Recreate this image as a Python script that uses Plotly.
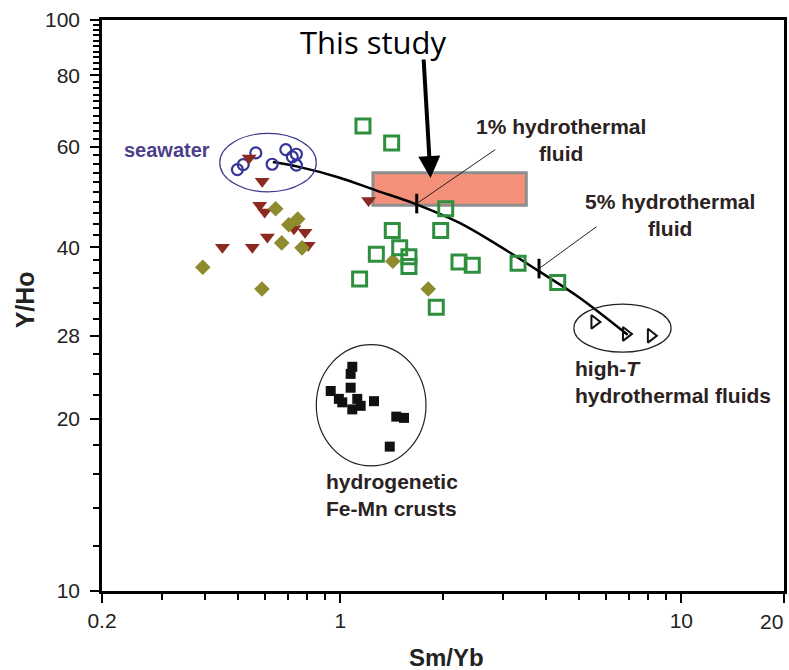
import math
import plotly.graph_objects as go

# ---------------- data ----------------
seawater_x = [0.499, 0.519, 0.565, 0.631, 0.692, 0.723, 0.743, 0.743]
seawater_y = [54.7, 55.8, 58.5, 55.9, 59.3, 57.6, 58.2, 55.7]

tri_x = [0.54, 0.59, 0.58, 0.60, 0.451, 0.552, 0.611, 0.731, 0.788, 0.805, 1.21]
tri_y = [57.3, 52.2, 47.4, 46.1, 40.0, 40.0, 41.7, 43.1, 42.5, 40.3, 48.3]

dia_x = [0.646, 0.706, 0.75, 0.673, 0.772, 0.395, 0.589, 1.425, 1.81]
dia_y = [46.7, 43.8, 44.8, 40.7, 39.9, 36.9, 33.8, 37.8, 33.8]

green_x = [1.165, 1.414, 1.42, 1.275, 1.139, 1.493, 1.589, 1.589, 1.969, 2.037, 2.228, 2.437, 3.32, 4.34, 1.911]
green_y = [65.2, 60.9, 42.8, 38.9, 35.2, 39.9, 38.5, 37.0, 42.8, 46.7, 37.7, 37.2, 37.5, 34.7, 31.4]

crust_x = [1.084, 1.072, 0.937, 1.072, 0.99, 1.013, 1.121, 1.084, 1.147, 1.255, 1.459, 1.537, 1.396]
crust_y = [24.7, 24.0, 22.4, 22.7, 21.7, 21.4, 21.7, 20.8, 21.1, 21.5, 20.2, 20.1, 17.9]

hiT_x = [5.56, 6.88, 8.14]
hiT_y = [29.6, 28.2, 28.0]

mix_x = [0.634, 0.756, 0.99, 1.272, 1.664, 2.222, 2.905, 3.80, 4.97, 6.96]
mix_y = [56.4, 55.3, 53.0, 50.3, 47.6, 44.2, 40.3, 36.4, 32.8, 28.1]

mark_labels = ["1% hydrothermal<br>fluid", "5% hydrothermal<br>fluid"]
mark_x = [1.675, 3.825]
mark_y = [47.7, 36.7]

study_box_x = [1.246, 3.51]
study_box_y = [47.4, 54.0]

seawater_ell_x = [0.443, 0.85]
seawater_ell_y = [50.0, 63.3]
crust_ell_x = [0.85, 1.783]
crust_ell_y = [16.56, 27.0]
hiT_ell_x = [4.84, 9.33]
hiT_ell_y = [26.2, 31.8]

x_ticks = [0.2, 1, 10, 20]
x_ticktext = ["0.2", "1", "10", "20"]
x_minor = [0.3, 0.4, 0.5, 0.6, 0.7, 0.8, 0.9, 2, 3, 4, 5, 6, 7, 8, 9]
y_ticks = [10, 20, 28, 40, 60, 80, 100]
y_minor = [v for v in range(12, 100, 2) if v not in y_ticks]

# ---------------- layout geometry (page pixels; body margin removed below) ----------------
W, H = 789, 670
PL, PT, PW, PH = 102, 20, 685, 571          # plot area on the page
ml, mt = PL, PT
mr, mb = W - ml - PW, H - mt - PH

L = math.log10
fig = go.Figure()

fig.add_trace(go.Scatter(x=mix_x, y=mix_y, mode="lines", line=dict(color="black", width=2.5, shape="spline"),
                         hoverinfo="skip"))
fig.add_trace(go.Scatter(x=seawater_x, y=seawater_y, mode="markers",
                         marker=dict(symbol="circle-open", size=11, color="#35359a", line=dict(width=2.2))))
fig.add_trace(go.Scatter(x=tri_x, y=tri_y, mode="markers",
                         marker=dict(symbol="triangle-down", size=13, color="#8b2a20")))
fig.add_trace(go.Scatter(x=dia_x, y=dia_y, mode="markers",
                         marker=dict(symbol="diamond", size=12, color="#8e8a2e")))
fig.add_trace(go.Scatter(x=green_x, y=green_y, mode="markers",
                         marker=dict(symbol="square-open", size=14, color="#2e8f3e", line=dict(width=3))))
fig.add_trace(go.Scatter(x=crust_x, y=crust_y, mode="markers",
                         marker=dict(symbol="square", size=10, color="#111111")))
fig.add_trace(go.Scatter(x=hiT_x, y=hiT_y, mode="markers",
                         marker=dict(symbol="triangle-right-open", size=12, color="#111111", line=dict(width=2))))
fig.add_trace(go.Scatter(x=mark_x, y=mark_y, mode="markers",
                         marker=dict(symbol="line-ns", size=14, color="black", line=dict(width=3, color="black"))))

# shapes
fig.add_shape(type="rect", xref="x", yref="y", x0=study_box_x[0], x1=study_box_x[1],
              y0=study_box_y[0], y1=study_box_y[1], fillcolor="#f4907a",
              line=dict(color="#8e8e8e", width=3), layer="below")
fig.add_shape(type="circle", xref="x", yref="y", x0=seawater_ell_x[0], x1=seawater_ell_x[1],
              y0=seawater_ell_y[0], y1=seawater_ell_y[1], line=dict(color="#3a3a8a", width=1.2))
fig.add_shape(type="circle", xref="x", yref="y", x0=crust_ell_x[0], x1=crust_ell_x[1],
              y0=crust_ell_y[0], y1=crust_ell_y[1], line=dict(color="#222222", width=1.2))
fig.add_shape(type="circle", xref="x", yref="y", x0=hiT_ell_x[0], x1=hiT_ell_x[1],
              y0=hiT_ell_y[0], y1=hiT_ell_y[1], line=dict(color="#222222", width=1.2))


def pp(xp, yp):
    return (xp - PL) / PW, (PT + PH - yp) / PH


def txt(xp, yp, text, font, xanchor="center", align="center", yanchor="middle", angle=0):
    x, y = pp(xp, yp)
    fig.add_annotation(x=x, y=y, xref="paper", yref="paper", text=text, showarrow=False, font=font,
                       xanchor=xanchor, yanchor=yanchor, align=align, textangle=angle)


# "This study" arrow
hx, hy = pp(432, 178)
fig.add_annotation(x=hx, y=hy, xref="paper", yref="paper", ax=-7, ay=-120, showarrow=True,
                   arrowhead=2, arrowsize=1.1, arrowwidth=4, arrowcolor="black", text="")

# label leader lines
fig.add_annotation(x=L(mark_x[0]), y=L(mark_y[0]), ax=80, ay=-55, showarrow=True, arrowhead=0,
                   arrowwidth=1, arrowcolor="#222", text="")
fig.add_annotation(x=L(mark_x[1]), y=L(mark_y[1]), ax=59, ay=-43, showarrow=True, arrowhead=0,
                   arrowwidth=1, arrowcolor="#222", text="")

lab_font = dict(family="Liberation Sans, Arial", size=21, color="#2b2222")
txt(375, 42, "This study", dict(family="Open Sans", size=31, color="black"))
txt(167, 150, "<b>seawater</b>", dict(family="Liberation Sans", size=20, color="#4b3f8c"))
txt(563, 140, "<b>" + mark_labels[0] + "</b>", lab_font)
txt(672, 215, "<b>" + mark_labels[1] + "</b>", lab_font)
txt(575, 382, "<b>high-<i>T</i><br>hydrothermal fluids</b>", lab_font, xanchor="left", align="left")
txt(325, 495, "<b>hydrogenetic<br>Fe-Mn crusts</b>", lab_font, xanchor="left", align="left")
txt(448, 657, "<b>Sm/Yb</b>", dict(family="Liberation Sans", size=24, color="#222"))
txt(25, 300, "<b>Y/Ho</b>", dict(family="Liberation Sans", size=25, color="#222"), angle=-90)

tick_font = dict(family="Liberation Sans, Arial", size=21, color="#222")
# last x label sits flush against the right edge
txt(788, 621, x_ticktext[-1], tick_font, xanchor="right")

fig.update_xaxes(type="log", range=[L(0.2), L(20)], tickvals=x_ticks, ticktext=x_ticktext[:-1] + [""],
                 ticks="outside", ticklen=9, tickwidth=2, tickcolor="black", tickfont=tick_font,
                 ticklabelstandoff=0,
                 showline=True, linecolor="black", linewidth=2.5, mirror=True, showgrid=False, zeroline=False,
                 minor=dict(tickvals=x_minor, ticks="outside", ticklen=6, tickwidth=1.5, tickcolor="black",
                            showgrid=False))
fig.update_yaxes(type="log", range=[1, 2], tickvals=y_ticks, ticktext=[str(v) for v in y_ticks],
                 ticks="outside", ticklen=9, tickwidth=2, tickcolor="black", tickfont=tick_font,
                 ticklabelstandoff=6,
                 showline=True, linecolor="black", linewidth=2.5, mirror=True, showgrid=False, zeroline=False,
                 minor=dict(tickvals=y_minor, ticks="outside", ticklen=6, tickwidth=1.5, tickcolor="black",
                            showgrid=False))
fig.update_layout(width=W, height=H, margin=dict(l=ml, r=mr, t=mt, b=mb, pad=0),
                  plot_bgcolor="white", paper_bgcolor="white", showlegend=False)

fig.write_html("out.html", config={"displayModeBar": False},
               post_script="document.body.style.margin='0px';")
